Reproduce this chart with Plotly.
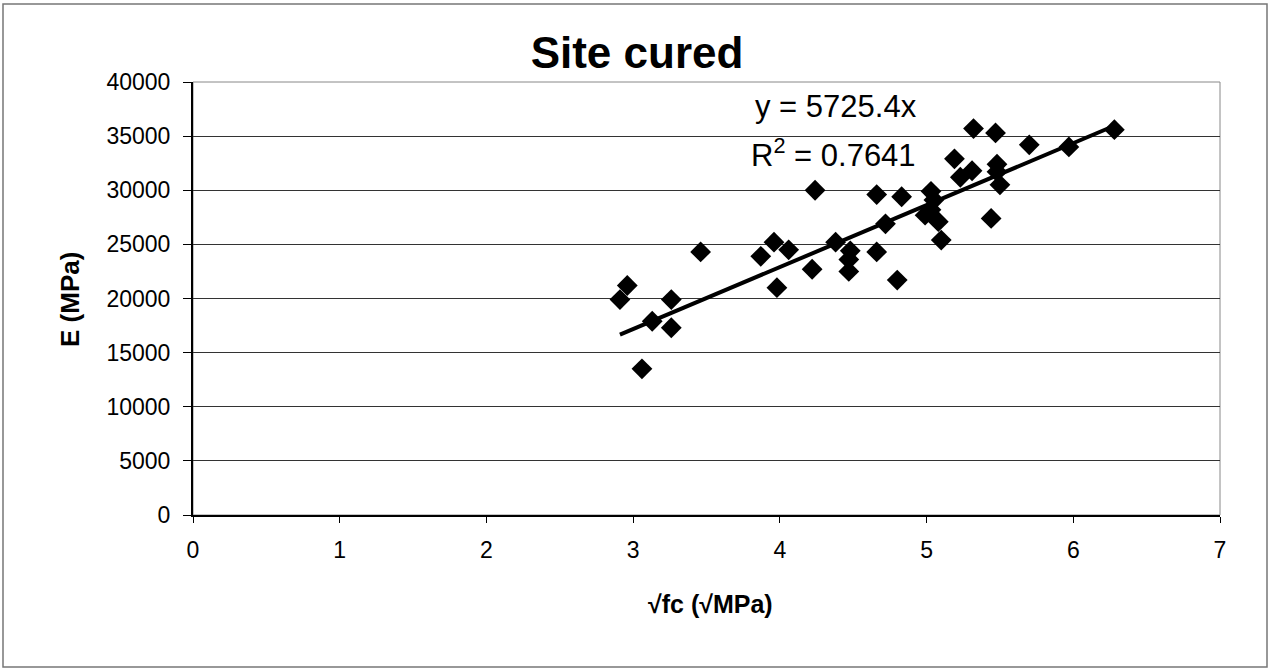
import plotly.graph_objects as go

# Data
sqrt_fc = [2.91, 2.96, 3.06, 3.13, 3.26, 3.26, 3.46, 3.87, 3.96, 3.98,
           4.06, 4.22, 4.24, 4.38, 4.47, 4.47, 4.48, 4.66, 4.66, 4.72,
           4.80, 4.83, 4.99, 5.03, 5.03, 5.05, 5.08, 5.10, 5.19, 5.23,
           5.31, 5.32, 5.44, 5.47, 5.48, 5.48, 5.50, 5.70, 5.97, 6.28]
E_mpa = [19900, 21200, 13500, 17900, 19900, 17300, 24300, 23900, 25200, 21000,
         24500, 22700, 30000, 25200, 23600, 22500, 24400, 29600, 24300, 26900,
         21700, 29400, 27700, 29900, 28200, 29100, 27100, 25400, 32900, 31200,
         31800, 35700, 27400, 35300, 32400, 31700, 30500, 34200, 34000, 35600]
slope = 5725.4
r2 = 0.7641
x_ticks = [0, 1, 2, 3, 4, 5, 6, 7]
y_ticks = [0, 5000, 10000, 15000, 20000, 25000, 30000, 35000, 40000]

trend_x = [min(sqrt_fc), max(sqrt_fc)]
trend_y = [slope * v for v in trend_x]

FONT = "Liberation Sans, Arial, sans-serif"
W, H = 1270, 669
L, R, T, B = 193, 1220, 82, 515   # plot area in pixels
PW, PH = R - L, B - T


def px(xp):
    return (xp - L) / PW


def py(yp):
    return (B - yp) / PH


fig = go.Figure()
fig.add_trace(go.Scatter(
    x=trend_x, y=trend_y, mode="lines",
    line=dict(color="black", width=4), showlegend=False, hoverinfo="skip"))
fig.add_trace(go.Scatter(
    x=sqrt_fc, y=E_mpa, mode="markers",
    marker=dict(symbol="diamond", size=16, color="black"),
    showlegend=False))

fig.update_layout(
    width=W, height=H,
    margin=dict(l=L, r=W - R, t=T, b=H - B),
    paper_bgcolor="white", plot_bgcolor="white",
    font=dict(family=FONT, color="black"),
    title=dict(text="<b>Site cured</b>", x=637 / W, xref="container",
               xanchor="center", y=1 - 53 / H, yanchor="middle",
               font=dict(size=44, family=FONT, color="black")),
    xaxis=dict(range=[0, 7], tickvals=x_ticks, ticks="outside", ticklen=6,
               tickcolor="black", showgrid=False, zeroline=False,
               showline=True, linecolor="black", linewidth=1.5, mirror=False,
               tickfont=dict(size=23, family=FONT), ticklabelstandoff=8),
    yaxis=dict(range=[0, 40000], tickvals=y_ticks, tickformat="d",
               ticks="outside", ticklen=8,
               tickcolor="black", showgrid=True, gridcolor="#333333", gridwidth=1,
               zeroline=False, showline=True, linecolor="black", linewidth=2,
               tickfont=dict(size=23, family=FONT), ticklabelstandoff=8),
    shapes=[
        dict(type="rect", xref="paper", yref="paper", x0=0, x1=1, y0=0, y1=1,
             line=dict(color="#888888", width=1), layer="below"),
        dict(type="rect", xref="paper", yref="paper",
             x0=px(3), x1=px(1267), y0=py(667), y1=py(4),
             line=dict(color="#777777", width=1.5)),
    ],
    annotations=[
        dict(text="y = 5725.4x", showarrow=False,
             font=dict(size=31, family=FONT), xref="paper", yref="paper",
             x=px(836), y=py(106), xanchor="center", yanchor="middle"),
        dict(text="R<sup>2</sup> = 0.7641", showarrow=False,
             font=dict(size=31, family=FONT), xref="paper", yref="paper",
             x=px(833), y=py(153), xanchor="center", yanchor="middle"),
        dict(text="<b>√fc (√MPa)</b>", showarrow=False,
             font=dict(size=25, family=FONT), xref="paper", yref="paper",
             x=px(710), y=py(604), xanchor="center", yanchor="middle"),
        dict(text="<b>E (MPa)</b>", showarrow=False, textangle=-90,
             font=dict(size=26, family=FONT), xref="paper", yref="paper",
             x=px(70), y=py(300), xanchor="center", yanchor="middle"),
    ],
)

fig.write_html("out.html")
